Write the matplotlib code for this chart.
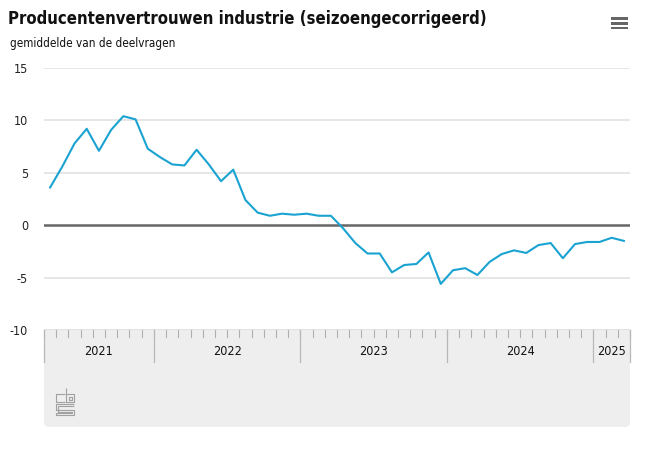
import matplotlib
matplotlib.use("Agg")
import matplotlib.pyplot as plt
from matplotlib.patches import FancyBboxPatch, Rectangle
from matplotlib import font_manager as fm
import numpy as np

# ---- data: monthly, April 2021 .. March 2025 ----
years = ["2021", "2022", "2023", "2024", "2025"]
months_per_year = [9, 12, 12, 12, 3]
values = [3.6, 5.6, 7.8, 9.2, 7.1, 9.1, 10.4, 10.1, 7.3,
          6.5, 5.8, 5.7, 7.2, 5.8, 4.2, 5.3, 2.4, 1.2, 0.9, 1.1, 1.0,
          1.1, 0.9, 0.9, -0.3, -1.7, -2.7, -2.7, -4.5, -3.8, -3.7, -2.6, -5.6,
          -4.3, -4.1, -4.75, -3.5, -2.75, -2.4, -2.65, -1.9, -1.7, -3.15, -1.8,
          -1.6, -1.6, -1.2, -1.5]
yticks = [-10, -5, 0, 5, 10, 15]
title = "Producentenvertrouwen industrie (seizoengecorrigeerd)"
subtitle = "gemiddelde van de deelvragen"

plt.rcParams["font.family"] = ["DejaVu Sans"]
plt.rcParams["font.stretch"] = "condensed"

W, H = 649, 451
fig = plt.figure(figsize=(W / 100, H / 100), dpi=100)

def fx(px):
    return px / W

def fy(py):
    return 1 - py / H

x0, x1 = 44, 630
ytop, ybot = 68, 330
boxbot = 427

n = len(values)
xs = np.arange(n)

# gray box (pixel coords)
axb = fig.add_axes([fx(x0), fy(boxbot), fx(x1 - x0), (boxbot - ybot + 12) / H])
axb.set_xlim(0, x1 - x0)
axb.set_ylim(0, boxbot - ybot + 12)
axb.axis("off")
axb.add_patch(FancyBboxPatch((0, 0), x1 - x0, boxbot - ybot + 20,
                             boxstyle="round,pad=0,rounding_size=5",
                             fc="#eeeeee", ec="none", clip_on=True))
# cbs logo (approximation)
lc = "#a0a0a0"
def L(xa, ya):
    axb.plot(np.array(xa) - x0, boxbot - np.array(ya), color=lc, lw=0.8,
             solid_capstyle="butt")
L([65, 56, 56, 65], [394, 394, 402, 402])
L([66, 66, 74, 74, 66], [388, 402, 402, 394, 394])
L([69, 69, 71.5, 71.5, 69], [396.5, 399.5, 399.5, 396.5, 396.5])
L([74, 56, 56, 74, 74, 56, 56, 72, 72, 58, 58, 74], [404, 404, 410, 410, 415, 415, 413, 413, 411.5, 411.5, 406, 406])

# main axes
ax = fig.add_axes([fx(x0), fy(ybot), fx(x1 - x0), (ybot - ytop) / H])
ax.set_facecolor("white")
ax.set_xlim(-0.5, n - 0.5)
ax.set_ylim(-10, 15)
for s in ax.spines.values():
    s.set_visible(False)
for v in yticks:
    if v == 0:
        ax.axhline(v, color="#666666", lw=1.8, zorder=2)
    elif v == -10:
        ax.axhline(v, color="#6b6b6b", lw=1.0, zorder=2)
    else:
        ax.axhline(v, color="#e4e4e4", lw=1.3, zorder=1)
ax.plot(xs, values, color="#1aa3d1", lw=1.5, zorder=3)
ax.set_yticks(yticks)
ax.set_yticklabels([str(v) for v in yticks], fontsize=9, color="#222222")
ax.tick_params(axis="y", length=0, pad=11.5)
ax.set_xticks([])

# month ticks, year separators, year labels
axt = fig.add_axes([fx(x0), fy(boxbot), fx(x1 - x0), (boxbot - ybot) / H])
axt.set_xlim(-0.5, n - 0.5)
axt.set_ylim(boxbot - ybot, 0)
axt.axis("off")
axt.patch.set_alpha(0)
bounds = np.cumsum([0] + months_per_year) - 0.5
for b in np.arange(n + 1) - 0.5:
    axt.plot([b, b], [0, 6.5], color="#b0b0b0", lw=0.8, clip_on=False)
for b in bounds:
    axt.plot([b, b], [0, 32], color="#b8b8b8", lw=0.9, clip_on=False)
for i, yr in enumerate(years):
    axt.text((bounds[i] + bounds[i + 1]) / 2, 21.5, yr, ha="center", va="center",
             fontsize=9, color="#111111")

# titles
t = fig.text(fx(8), fy(19), title, fontsize=14, fontweight="bold", color="#111111",
             ha="left", va="center")
fig.canvas.draw()
wpx = t.get_window_extent().width
t.set_fontsize(14 * 482 / wpx)
s = fig.text(fx(10), fy(43), subtitle, fontsize=9, color="#111111",
             ha="left", va="center")
fig.canvas.draw()
s.set_fontsize(9 * 163 / s.get_window_extent().width)

# menu icon
for yy in (17.5, 22.3, 27):
    fig.add_artist(Rectangle((fx(611), fy(yy + 2.2)), fx(17), 2.2 / H,
                             transform=fig.transFigure, fc="#666666", ec="none"))

fig.savefig("out.png", dpi=100)
